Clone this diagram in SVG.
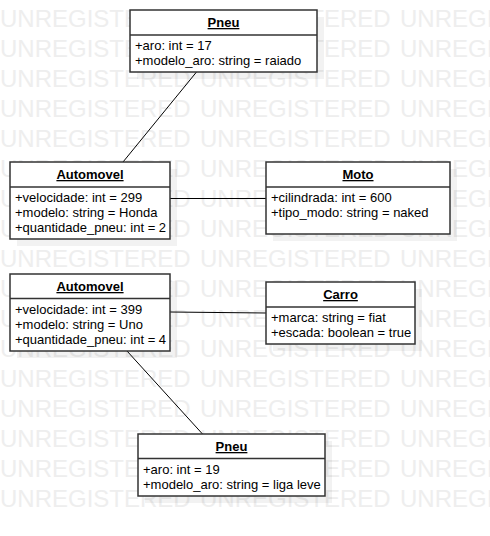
<svg xmlns="http://www.w3.org/2000/svg" width="490" height="536" viewBox="0 0 490 536">
<style>
.wm{font-family:"Liberation Sans",Arial,sans-serif;font-size:24px;fill:#eeeeee}
.box{fill:#fff;stroke:#333;stroke-width:1.5}
.sh{fill:#000;opacity:0.05}
.div{stroke:#333;stroke-width:1.5}
.t{font-family:"Liberation Sans",Arial,sans-serif;font-size:13px;fill:#000}
.ttl{font-weight:bold;text-anchor:middle;text-decoration:underline}
.ln{stroke:#000;stroke-width:1;fill:none}
</style>
<rect width="490" height="536" fill="#fff"/>
<g id="watermark" class="wm">
<text y="27"><tspan x="0">UNREGISTERED</tspan><tspan x="200">UNREGISTERED</tspan><tspan x="400">UNREGISTERED</tspan></text>
<text y="57"><tspan x="0">UNREGISTERED</tspan><tspan x="200">UNREGISTERED</tspan><tspan x="400">UNREGISTERED</tspan></text>
<text y="87"><tspan x="0">UNREGISTERED</tspan><tspan x="200">UNREGISTERED</tspan><tspan x="400">UNREGISTERED</tspan></text>
<text y="117"><tspan x="0">UNREGISTERED</tspan><tspan x="200">UNREGISTERED</tspan><tspan x="400">UNREGISTERED</tspan></text>
<text y="147"><tspan x="0">UNREGISTERED</tspan><tspan x="200">UNREGISTERED</tspan><tspan x="400">UNREGISTERED</tspan></text>
<text y="177"><tspan x="0">UNREGISTERED</tspan><tspan x="200">UNREGISTERED</tspan><tspan x="400">UNREGISTERED</tspan></text>
<text y="207"><tspan x="0">UNREGISTERED</tspan><tspan x="200">UNREGISTERED</tspan><tspan x="400">UNREGISTERED</tspan></text>
<text y="237"><tspan x="0">UNREGISTERED</tspan><tspan x="200">UNREGISTERED</tspan><tspan x="400">UNREGISTERED</tspan></text>
<text y="267"><tspan x="0">UNREGISTERED</tspan><tspan x="200">UNREGISTERED</tspan><tspan x="400">UNREGISTERED</tspan></text>
<text y="297"><tspan x="0">UNREGISTERED</tspan><tspan x="200">UNREGISTERED</tspan><tspan x="400">UNREGISTERED</tspan></text>
<text y="327"><tspan x="0">UNREGISTERED</tspan><tspan x="200">UNREGISTERED</tspan><tspan x="400">UNREGISTERED</tspan></text>
<text y="357"><tspan x="0">UNREGISTERED</tspan><tspan x="200">UNREGISTERED</tspan><tspan x="400">UNREGISTERED</tspan></text>
<text y="387"><tspan x="0">UNREGISTERED</tspan><tspan x="200">UNREGISTERED</tspan><tspan x="400">UNREGISTERED</tspan></text>
<text y="417"><tspan x="0">UNREGISTERED</tspan><tspan x="200">UNREGISTERED</tspan><tspan x="400">UNREGISTERED</tspan></text>
<text y="447"><tspan x="0">UNREGISTERED</tspan><tspan x="200">UNREGISTERED</tspan><tspan x="400">UNREGISTERED</tspan></text>
<text y="477"><tspan x="0">UNREGISTERED</tspan><tspan x="200">UNREGISTERED</tspan><tspan x="400">UNREGISTERED</tspan></text>
<text y="507"><tspan x="0">UNREGISTERED</tspan><tspan x="200">UNREGISTERED</tspan><tspan x="400">UNREGISTERED</tspan></text>
</g>
<g id="connectors">
<line class="ln" x1="196.5" y1="72" x2="123" y2="162"/>
<line class="ln" x1="170" y1="198.5" x2="266" y2="198.5"/>
<line class="ln" x1="170" y1="312" x2="266" y2="313"/>
<line class="ln" x1="127" y1="351" x2="202.5" y2="434"/>
</g>
<g id="pneu1">
<rect class="sh" x="137" y="17" width="187" height="62"/>
<rect class="box" x="130" y="10" width="187" height="62"/>
<line class="div" x1="130" y1="35" x2="317" y2="35"/>
<text class="t ttl" x="223.5" y="27">Pneu</text>
<text class="t" x="135" y="50">+aro: int = 17</text>
<text class="t" x="135" y="65">+modelo_aro: string = raiado</text>
</g>
<g id="automovel1">
<rect class="sh" x="17" y="169" width="160" height="77"/>
<rect class="box" x="10" y="162" width="160" height="77"/>
<line class="div" x1="10" y1="187" x2="170" y2="187"/>
<text class="t ttl" x="90" y="179">Automovel</text>
<text class="t" x="15" y="202">+velocidade: int = 299</text>
<text class="t" x="15" y="217">+modelo: string = Honda</text>
<text class="t" x="15" y="232">+quantidade_pneu: int = 2</text>
</g>
<g id="moto">
<rect class="sh" x="273" y="169" width="184" height="72"/>
<rect class="box" x="266" y="162" width="184" height="72"/>
<line class="div" x1="266" y1="187" x2="450" y2="187"/>
<text class="t ttl" x="358" y="179">Moto</text>
<text class="t" x="271" y="202">+cilindrada: int = 600</text>
<text class="t" x="271" y="217">+tipo_modo: string = naked</text>
</g>
<g id="automovel2">
<rect class="sh" x="17" y="281" width="160" height="77"/>
<rect class="box" x="10" y="274" width="160" height="77"/>
<line class="div" x1="10" y1="298.5" x2="170" y2="298.5"/>
<text class="t ttl" x="90" y="291">Automovel</text>
<text class="t" x="15" y="314">+velocidade: int = 399</text>
<text class="t" x="15" y="329">+modelo: string = Uno</text>
<text class="t" x="15" y="344">+quantidade_pneu: int = 4</text>
</g>
<g id="carro">
<rect class="sh" x="273" y="289" width="149" height="62"/>
<rect class="box" x="266" y="282" width="149" height="62"/>
<line class="div" x1="266" y1="307" x2="415" y2="307"/>
<text class="t ttl" x="340.5" y="299">Carro</text>
<text class="t" x="271" y="322">+marca: string = fiat</text>
<text class="t" x="271" y="337">+escada: boolean = true</text>
</g>
<g id="pneu2">
<rect class="sh" x="145" y="441" width="187" height="62"/>
<rect class="box" x="138" y="434" width="187" height="62"/>
<line class="div" x1="138" y1="458.5" x2="325" y2="458.5"/>
<text class="t ttl" x="231.5" y="451">Pneu</text>
<text class="t" x="143" y="474">+aro: int = 19</text>
<text class="t" x="143" y="489">+modelo_aro: string = liga leve</text>
</g>
</svg>
